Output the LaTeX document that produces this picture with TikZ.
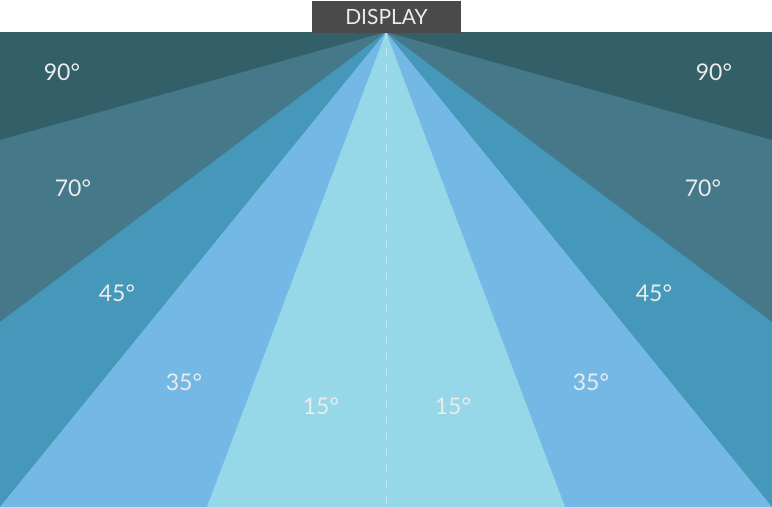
\documentclass[tikz,border=0pt]{standalone}
\usepackage{fontspec}
\setmainfont{Lato}
\usepackage{xcolor}
\definecolor{colorNinety}{HTML}{335F69}
\definecolor{colorSeventy}{HTML}{457888}
\definecolor{colorFortyFive}{HTML}{4598B9}
\definecolor{colorThirtyFive}{HTML}{74B9E6}
\definecolor{colorFifteen}{HTML}{96D7E8}
\definecolor{colorDisplay}{HTML}{4A4A4A}
\colorlet{colorLabel}{white!92!black}
\usepackage{tikz}
\tikzset{zone/.style={fill=#1, draw=none}}

\begin{document}
\begin{tikzpicture}[x=1pt, y=-1pt, angle/.style={text=colorLabel, font=\fontsize{23}{27}\selectfont, inner sep=0pt}]
\useasboundingbox (0,0) rectangle (772,507);
\coordinate (apex) at (386,32);
\coordinate (base) at (386,507);
\coordinate (bl) at (0,507);
\coordinate (br) at (772,507);
\fill[zone=colorNinety] (0,32) rectangle (br);
\fill[zone=colorSeventy] (apex) -- (0,140) -- (bl) -- (br) -- (772,140) -- cycle;
\fill[zone=colorFortyFive] (apex) -- (0,322) -- (bl) -- (br) -- (772,322) -- cycle;
\fill[zone=colorThirtyFive] (apex) -- (bl) -- (br) -- cycle;
\fill[zone=colorFifteen] (apex) -- (207,507) -- (565,507) -- cycle;
\draw[white!45!colorFifteen, line width=0.8pt, dash pattern=on 7pt off 9pt] (apex) -- (base);
\node[fill=colorDisplay, text=colorLabel, minimum width=149pt, minimum height=32pt, inner sep=0pt, font=\fontsize{21}{25}\selectfont] (display) at (386.5,16.5) {DISPLAY};
\node[angle] (l90) at (62,72) {90°};
\node[angle] (r90) at (714,72) {90°};
\node[angle] (l70) at (73,188) {70°};
\node[angle] (r70) at (703,188) {70°};
\node[angle] (l45) at (117,293) {45°};
\node[angle] (r45) at (654,293) {45°};
\node[angle] (l35) at (184,382) {35°};
\node[angle] (r35) at (591,382) {35°};
\node[angle] (l15) at (321,406) {15°};
\node[angle] (r15) at (453,406) {15°};
\end{tikzpicture}
\end{document}
